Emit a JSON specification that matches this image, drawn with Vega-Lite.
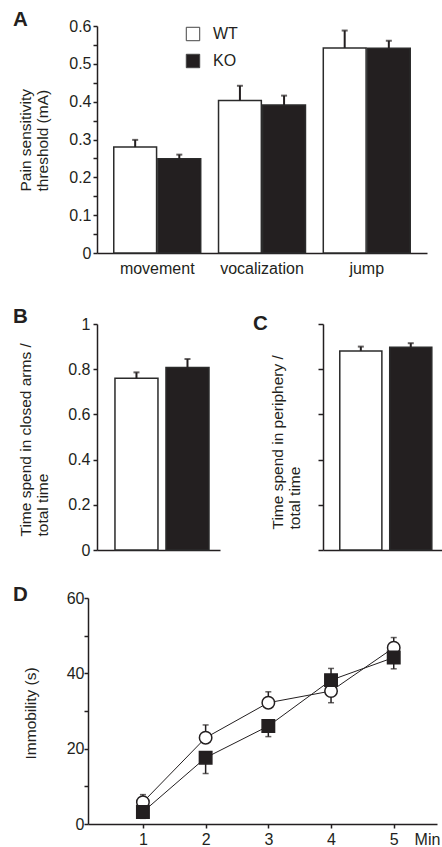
{
  "$schema": "https://vega.github.io/schema/vega-lite/v6.json",
  "background": "white",
  "padding": {"left": 12, "top": 9, "right": 0, "bottom": 0},
  "config": {
    "view": {"stroke": null},
    "font": "Liberation Sans",
    "axis": {"domainColor": "#231f20", "domainWidth": 1.5, "tickColor": "#231f20", "tickWidth": 1.5, "tickSize": 4, "labelFont": "Liberation Sans", "labelFontSize": 16, "labelColor": "#231f20", "titleFont": "Liberation Sans", "titleFontSize": 15.5, "titleFontWeight": "normal", "titleColor": "#231f20", "grid": false, "labelPadding": 5, "labelOverlap": false, "labelBound": false},
    "title": {"font": "Liberation Sans", "fontSize": 20.5, "fontWeight": "bold", "color": "#231f20", "anchor": "start", "frame": "group"}
  },
  "datasets": {
    "A": [
      {"cat": "movement", "g": "WT", "v": 0.280, "e": 0.299},
      {"cat": "movement", "g": "KO", "v": 0.249, "e": 0.260},
      {"cat": "vocalization", "g": "WT", "v": 0.403, "e": 0.442},
      {"cat": "vocalization", "g": "KO", "v": 0.391, "e": 0.416},
      {"cat": "jump", "g": "WT", "v": 0.542, "e": 0.588},
      {"cat": "jump", "g": "KO", "v": 0.541, "e": 0.561}
    ],
    "B": [
      {"g": "WT", "v": 0.760, "e": 0.786},
      {"g": "KO", "v": 0.807, "e": 0.845}
    ],
    "C": [
      {"g": "WT", "v": 0.881, "e": 0.900},
      {"g": "KO", "v": 0.897, "e": 0.915}
    ],
    "D": [
      {"m": 1, "g": "WT", "v": 5.8, "e": 7.8},
      {"m": 2, "g": "WT", "v": 22.9, "e": 26.3},
      {"m": 3, "g": "WT", "v": 32.2, "e": 35.1},
      {"m": 4, "g": "WT", "v": 35.3, "e": 32.2},
      {"m": 5, "g": "WT", "v": 46.8, "e": 49.5},
      {"m": 1, "g": "KO", "v": 3.2, "e": 1.5},
      {"m": 2, "g": "KO", "v": 17.6, "e": 13.4},
      {"m": 3, "g": "KO", "v": 26.0, "e": 23.2},
      {"m": 4, "g": "KO", "v": 38.2, "e": 41.3},
      {"m": 5, "g": "KO", "v": 44.2, "e": 41.2}
    ],
    "empty": []
  },
  "concat": [
    {
      "hconcat": [
        {"width": 1, "height": 1, "data": {"name": "empty"}, "mark": "point"},
        {
          "vconcat": [
            {
              "width": 330,
              "height": 227,
              "title": {"text": "A", "dx": -84, "dy": 3, "offset": -9},
              "data": {"name": "A"},
              "encoding": {
                "x": {"field": "cat", "type": "nominal", "sort": ["movement", "vocalization", "jump"], "scale": {"paddingInner": 0.17, "paddingOuter": 0.16}, "axis": {"title": null, "ticks": false, "labelAngle": 0, "labelPadding": 7}},
                "xOffset": {"field": "g", "type": "nominal", "sort": ["WT", "KO"], "scale": {"paddingInner": 0.03, "paddingOuter": 0}}
              },
              "layer": [
                {
                  "mark": {"type": "bar", "stroke": "#2b2b2b", "strokeWidth": 1.5},
                  "encoding": {
                    "y": {"field": "v", "type": "quantitative", "scale": {"domain": [0, 0.6], "nice": false},
                      "axis": {"title": ["Pain sensitivity", "threshold (mA)"], "values": [0, 0.05, 0.1, 0.15, 0.2, 0.25, 0.3, 0.35, 0.4, 0.45, 0.5, 0.55, 0.6], "labelOverlap": false, "labelPadding": 2, "labelExpr": "round(datum.value*100) % 10 == 0 ? format(datum.value, '~g') : ''", "titleAlign": "left", "titleBaseline": "bottom", "titleX": -64, "titleY": 165}},
                    "fill": {"field": "g", "type": "nominal", "scale": {"domain": ["WT", "KO"], "range": ["white", "#231f20"]},
                      "legend": {"orient": "none", "legendX": 88, "legendY": 0, "title": null, "symbolType": "square", "symbolSize": 180, "symbolStrokeColor": "#444", "symbolStrokeWidth": 1, "labelFontSize": 16, "labelFont": "Liberation Sans", "labelColor": "#231f20", "labelOffset": 12, "rowPadding": 9, "padding": 0}}
                  }
                },
                {
                  "mark": {"type": "rule", "strokeWidth": 2, "color": "#231f20"},
                  "encoding": {
                    "y": {"field": "v", "type": "quantitative", "axis": {"title": ["Pain sensitivity", "threshold (mA)"], "values": [0, 0.05, 0.1, 0.15, 0.2, 0.25, 0.3, 0.35, 0.4, 0.45, 0.5, 0.55, 0.6], "labelOverlap": false, "labelPadding": 2, "labelExpr": "round(datum.value*100) % 10 == 0 ? format(datum.value, '~g') : ''", "titleAlign": "left", "titleBaseline": "bottom", "titleX": -64, "titleY": 165}},
                    "y2": {"field": "e"}}
                },
                {
                  "mark": {"type": "tick", "orient": "horizontal", "size": 6, "thickness": 2, "color": "#231f20"},
                  "encoding": {"y": {"field": "e", "type": "quantitative", "axis": {"title": ["Pain sensitivity", "threshold (mA)"], "values": [0, 0.05, 0.1, 0.15, 0.2, 0.25, 0.3, 0.35, 0.4, 0.45, 0.5, 0.55, 0.6], "labelOverlap": false, "labelPadding": 2, "labelExpr": "round(datum.value*100) % 10 == 0 ? format(datum.value, '~g') : ''", "titleAlign": "left", "titleBaseline": "bottom", "titleX": -64, "titleY": 165}}}
                }
              ]
            },
            {
              "hconcat": [
                {
                  "width": 123,
                  "height": 226,
                  "title": {"text": "B", "dx": -84, "offset": -11},
                  "data": {"name": "B"},
                  "encoding": {
                    "x": {"field": "g", "type": "nominal", "sort": ["WT", "KO"], "scale": {"paddingInner": 0.157, "paddingOuter": 0.284, "align": 0.62}, "axis": {"title": null, "labels": false, "ticks": false}}
                  },
                  "layer": [
                    {
                      "mark": {"type": "bar", "stroke": "#2b2b2b", "strokeWidth": 1.5},
                      "encoding": {
                        "y": {"field": "v", "type": "quantitative", "scale": {"domain": [0, 1], "nice": false},
                          "axis": {"title": ["Time spend in closed arms /", "total time"], "values": [0, 0.2, 0.4, 0.6, 0.8, 1], "format": "~g", "labelPadding": 3, "titleAlign": "left", "titleBaseline": "bottom", "titleX": -64, "titleY": 212}},
                        "fill": {"field": "g", "type": "nominal", "scale": {"domain": ["WT", "KO"], "range": ["white", "#231f20"]}, "legend": null}
                      }
                    },
                    {
                      "mark": {"type": "rule", "strokeWidth": 2, "color": "#231f20"},
                      "encoding": {"y": {"field": "v", "type": "quantitative", "axis": {"title": ["Time spend in closed arms /", "total time"], "values": [0, 0.2, 0.4, 0.6, 0.8, 1], "format": "~g", "labelPadding": 3, "titleAlign": "left", "titleBaseline": "bottom", "titleX": -64, "titleY": 212}}, "y2": {"field": "e"}}
                    },
                    {
                      "mark": {"type": "tick", "orient": "horizontal", "size": 6, "thickness": 2, "color": "#231f20"},
                      "encoding": {"y": {"field": "e", "type": "quantitative", "axis": {"title": ["Time spend in closed arms /", "total time"], "values": [0, 0.2, 0.4, 0.6, 0.8, 1], "format": "~g", "labelPadding": 3, "titleAlign": "left", "titleBaseline": "bottom", "titleX": -64, "titleY": 212}}}
                    }
                  ]
                },
                {
                  "width": 120,
                  "height": 226,
                  "title": {"text": "C", "dx": -70, "offset": -11},
                  "data": {"name": "C"},
                  "encoding": {
                    "x": {"field": "g", "type": "nominal", "sort": ["WT", "KO"], "scale": {"paddingInner": 0.157, "paddingOuter": 0.28, "align": 0.6}, "axis": {"title": null, "labels": false, "ticks": false}}
                  },
                  "layer": [
                    {
                      "mark": {"type": "bar", "stroke": "#2b2b2b", "strokeWidth": 1.5},
                      "encoding": {
                        "y": {"field": "v", "type": "quantitative", "scale": {"domain": [0, 1], "nice": false},
                          "axis": {"title": ["Time spend in periphery /", "total time"], "values": [0, 0.2, 0.4, 0.6, 0.8, 1], "labels": false, "tickSize": 5, "titleAlign": "left", "titleBaseline": "bottom", "titleX": -38, "titleY": 205}},
                        "fill": {"field": "g", "type": "nominal", "scale": {"domain": ["WT", "KO"], "range": ["white", "#231f20"]}, "legend": null}
                      }
                    },
                    {
                      "mark": {"type": "rule", "strokeWidth": 2, "color": "#231f20"},
                      "encoding": {"y": {"field": "v", "type": "quantitative", "axis": {"title": ["Time spend in periphery /", "total time"], "values": [0, 0.2, 0.4, 0.6, 0.8, 1], "labels": false, "tickSize": 5, "titleAlign": "left", "titleBaseline": "bottom", "titleX": -38, "titleY": 205}}, "y2": {"field": "e"}}
                    },
                    {
                      "mark": {"type": "tick", "orient": "horizontal", "size": 6, "thickness": 2, "color": "#231f20"},
                      "encoding": {"y": {"field": "e", "type": "quantitative", "axis": {"title": ["Time spend in periphery /", "total time"], "values": [0, 0.2, 0.4, 0.6, 0.8, 1], "labels": false, "tickSize": 5, "titleAlign": "left", "titleBaseline": "bottom", "titleX": -38, "titleY": 205}}}
                    }
                  ]
                }
              ],
              "spacing": 33,
              "resolve": {"scale": {"fill": "independent"}, "legend": {"fill": "independent"}}
            }
          ],
          "spacing": 30,
          "resolve": {"scale": {"fill": "independent"}, "legend": {"fill": "independent"}}
        }
      ],
      "spacing": 0,
      "resolve": {"scale": {"fill": "independent"}, "legend": {"fill": "independent"}}
    },
    {
      "hconcat": [
        {"width": 1, "height": 1, "data": {"name": "empty"}, "mark": "point"},
        {
          "width": 349,
          "height": 226,
          "title": {"text": "D", "dx": -75, "offset": -15},
          "data": {"name": "D"},
          "encoding": {
            "x": {"field": "m", "type": "quantitative", "scale": {"domain": [0.124, 5.69], "nice": false, "zero": false},
              "axis": {"title": null, "values": [1, 2, 3, 4, 5, 5.53], "labelExpr": "datum.value > 5.2 ? 'Min' : datum.label", "tickOpacity": {"condition": {"test": "datum.value > 5.2", "value": 0}, "value": 1}, "labelPadding": 3}}
          },
          "layer": [
            {
              "mark": {"type": "line", "color": "#231f20", "strokeWidth": 1},
              "encoding": {
                "y": {"field": "v", "type": "quantitative", "scale": {"domain": [0, 60], "nice": false},
                  "axis": {"title": "Immobility (s)", "values": [0, 10, 20, 30, 40, 50, 60], "labelExpr": "datum.value % 20 == 0 ? datum.label : ''", "labelPadding": 0, "titleAlign": "left", "titleBaseline": "bottom", "titleX": -50, "titleY": 161}},
                "detail": {"field": "g", "type": "nominal"}
              }
            },
            {
              "mark": {"type": "rule", "strokeWidth": 1.5, "color": "#231f20"},
              "encoding": {"y": {"field": "v", "type": "quantitative", "axis": {"title": "Immobility (s)", "values": [0, 10, 20, 30, 40, 50, 60], "labelExpr": "datum.value % 20 == 0 ? datum.label : ''", "labelPadding": 0, "titleAlign": "left", "titleBaseline": "bottom", "titleX": -50, "titleY": 161}}, "y2": {"field": "e"}}
            },
            {
              "mark": {"type": "tick", "orient": "horizontal", "size": 6, "thickness": 1.5, "color": "#231f20"},
              "encoding": {"y": {"field": "e", "type": "quantitative", "axis": {"title": "Immobility (s)", "values": [0, 10, 20, 30, 40, 50, 60], "labelExpr": "datum.value % 20 == 0 ? datum.label : ''", "labelPadding": 0, "titleAlign": "left", "titleBaseline": "bottom", "titleX": -50, "titleY": 161}}}
            },
            {
              "mark": {"type": "point", "filled": true, "stroke": "#231f20", "strokeWidth": 1.5, "opacity": 1, "size": 155},
              "encoding": {
                "y": {"field": "v", "type": "quantitative", "axis": {"title": "Immobility (s)", "values": [0, 10, 20, 30, 40, 50, 60], "labelExpr": "datum.value % 20 == 0 ? datum.label : ''", "labelPadding": 0, "titleAlign": "left", "titleBaseline": "bottom", "titleX": -50, "titleY": 161}},
                "shape": {"field": "g", "type": "nominal", "scale": {"domain": ["WT", "KO"], "range": ["circle", "square"]}, "legend": null},
                "fill": {"field": "g", "type": "nominal", "scale": {"domain": ["WT", "KO"], "range": ["white", "#231f20"]}, "legend": null}
              }
            }
          ]
        }
      ],
      "spacing": 0,
      "resolve": {"scale": {"fill": "independent", "shape": "independent"}, "legend": {"fill": "independent", "shape": "independent"}}
    }
  ],
  "columns": 1,
  "spacing": 26,
  "resolve": {"scale": {"fill": "independent", "shape": "independent"}, "legend": {"fill": "independent", "shape": "independent"}}
}
